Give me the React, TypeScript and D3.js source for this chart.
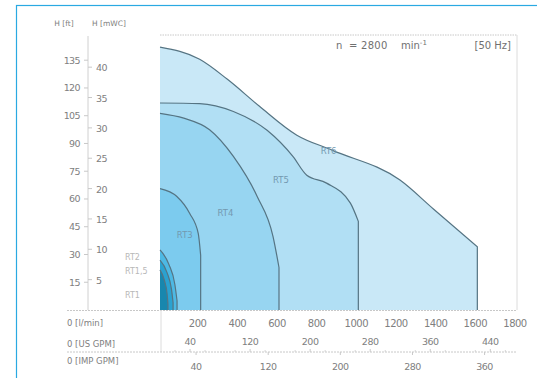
import * as d3 from "d3";

// flow in l/min, head in m
const rt6Q = [0, 200, 340, 500, 690, 870, 1210, 1380, 1600];
const rt6H = [43.3, 41.3, 38.0, 33.6, 28.8, 26.3, 21.4, 16.6, 10.4];
const rt5Q = [0, 200, 370, 540, 670, 740, 840, 960, 1000];
const rt5H = [34.1, 34.0, 32.7, 29.6, 25.3, 22.2, 20.9, 17.6, 14.6];
const rt4Q = [0, 120, 250, 370, 490, 570, 600];
const rt4H = [32.4, 31.6, 29.7, 25.3, 18.7, 12.1, 7.0];
const rt3Q = [0, 85, 150, 193, 205];
const rt3H = [20.0, 18.7, 15.9, 12.6, 9.0];
const rt2Q = [0, 45, 75, 86];
const rt2H = [9.9, 7.5, 4.2, 1.5];
const rt15Q = [0, 35, 58, 66];
const rt15H = [8.2, 6.2, 3.4, 1.2];
const rt1Q = [0, 22, 36, 40];
const rt1H = [6.6, 4.9, 2.6, 1.0];

const curveNames = ["RT6", "RT5", "RT4", "RT3", "RT2", "RT1,5", "RT1"];
const curveFills = ["#c9e8f7", "#b1dff4", "#97d5f1", "#7ccbee", "#4db9e4", "#2ba2d0", "#1887ae"];

const lpmTicks = [200, 400, 600, 800, 1000, 1200, 1400, 1600, 1800];
const usTicks = [40, 120, 200, 280, 360, 440];
const impTicks = [40, 120, 200, 280, 360];
const ftTicks = [15, 30, 45, 60, 75, 90, 105, 120, 135];
const mTicks = [5, 10, 15, 20, 25, 30, 35, 40];

const US_GAL = 3.785;
const IMP_GAL = 4.546;
const FT = 3.2808;

const W = 537;
const H = 378;
const FONT = "DejaVu Sans, sans-serif";
const TXT = "#808080";

export default function App() {
  const x = d3.scaleLinear().domain([0, 1800]).range([160, 517]);
  const y = d3.scaleLinear().domain([0, 45.3]).range([310, 35]);
  const line = d3
    .line<[number, number]>()
    .x((d) => x(d[0]))
    .y((d) => y(d[1]))
    .curve(d3.curveMonotoneX);

  const series = [
    [rt6Q, rt6H],
    [rt5Q, rt5H],
    [rt4Q, rt4H],
    [rt3Q, rt3H],
    [rt2Q, rt2H],
    [rt15Q, rt15H],
    [rt1Q, rt1H],
  ].map(([qs, hs], i) => {
    const pts = qs.map((q, j) => [q, hs[j]] as [number, number]);
    const top = line(pts) as string;
    const qMax = qs[qs.length - 1];
    return {
      name: curveNames[i],
      fill: curveFills[i],
      outline: `${top}L${x(qMax)},${y(0)}`,
      area: `${top}L${x(qMax)},${y(0)}L${x(0)},${y(0)}Z`,
    };
  });

  const labels = [
    { t: "RT6", q: 810, h: 25.7 },
    { t: "RT5", q: 570, h: 21.0 },
    { t: "RT4", q: 290, h: 15.5 },
    { t: "RT3", q: 85, h: 11.8 },
  ];

  return (
    <svg
      width={W}
      height={H}
      viewBox={`0 0 ${W} ${H}`}
      style={{ position: "absolute", left: 0, top: 0, background: "#fff" }}
      fontFamily={FONT}
    >
      <rect x={16.5} y={5.5} width={W} height={H} fill="none" stroke="#2aa9e2" strokeWidth={1.2} />

      {series.map((s) => (
        <path key={s.name + "a"} d={s.area} fill={s.fill} />
      ))}
      {series.map((s) => (
        <path key={s.name + "o"} d={s.outline} fill="none" stroke="#557483" strokeWidth={1.2} />
      ))}
      {labels.map((l) => (
        <text key={l.t} x={x(l.q)} y={y(l.h)} fontSize={8.5} fill="#7399b0">
          {l.t}
        </text>
      ))}

      {/* frame lines */}
      <line x1={160} y1={35} x2={517} y2={35} stroke="#c8c8c8" strokeDasharray="1.5,1" />
      <line x1={517} y1={35} x2={517} y2={310} stroke="#dcdcdc" />
      <line x1={67} y1={310.5} x2={517} y2={310.5} stroke="#c8c8c8" strokeDasharray="2,1" />
      <line x1={88} y1={36} x2={88} y2={310} stroke="#d0d0d0" />
      <line x1={161} y1={310} x2={161} y2={352} stroke="#dcdcdc" />
      <line x1={67} y1={352} x2={517} y2={352} stroke="#c8c8c8" strokeDasharray="2,1" />

      {/* head axes */}
      <text x={64} y={26} fontSize={7.5} fill={TXT} textAnchor="middle">H [ft]</text>
      <text x={92} y={26} fontSize={7.5} fill={TXT}>H [mWC]</text>
      {ftTicks.map((t) => (
        <g key={"ft" + t}>
          <line x1={84} x2={88} y1={y(t / FT)} y2={y(t / FT)} stroke="#c8c8c8" />
          <text x={80} y={y(t / FT) + 3.5} fontSize={9.5} fill={TXT} textAnchor="end" letterSpacing={-0.6}>
            {t}
          </text>
        </g>
      ))}
      {mTicks.map((t) => (
        <g key={"m" + t}>
          <line x1={88} x2={92} y1={y(t)} y2={y(t)} stroke="#c8c8c8" />
          <text x={96} y={y(t) + 4} fontSize={9.5} fill={TXT} letterSpacing={-0.6}>
            {t}
          </text>
        </g>
      ))}

      {/* small curve names */}
      <text x={125} y={260} fontSize={8} fill="#b8b8b8">RT2</text>
      <text x={125} y={274} fontSize={8} fill="#b8b8b8">RT1,5</text>
      <text x={125} y={298} fontSize={8} fill="#b8b8b8">RT1</text>

      {/* flow axes */}
      <text x={67} y={326} fontSize={8.5} fill={TXT}>0 [l/min]</text>
      <text x={67} y={347} fontSize={8.5} fill={TXT}>0 [US GPM]</text>
      <text x={67} y={364} fontSize={8.5} fill={TXT}>0 [IMP GPM]</text>
      {lpmTicks.map((t) => (
        <text key={"l" + t} x={x(t) - 2} y={327} fontSize={10} fill={TXT} textAnchor="middle" letterSpacing={-0.5}>
          {t}
        </text>
      ))}
      {usTicks.map((t) => (
        <g key={"us" + t}>
          <line x1={x(t * US_GAL)} x2={x(t * US_GAL)} y1={349} y2={352} stroke="#c8c8c8" />
          <text x={x(t * US_GAL)} y={345} fontSize={9.5} fill={TXT} textAnchor="middle" letterSpacing={-0.5}>
            {t}
          </text>
        </g>
      ))}
      {d3.range(20, 480, 40).map((t) => (
        <line key={"usm" + t} x1={x(t * US_GAL)} x2={x(t * US_GAL)} y1={350} y2={352} stroke="#d5d5d5" />
      ))}
      {impTicks.map((t) => (
        <g key={"imp" + t}>
          <line x1={x(t * IMP_GAL)} x2={x(t * IMP_GAL)} y1={352} y2={355} stroke="#c8c8c8" />
          <text x={x(t * IMP_GAL)} y={370} fontSize={9.5} fill={TXT} textAnchor="middle" letterSpacing={-0.5}>
            {t}
          </text>
        </g>
      ))}

      {/* speed note */}
      <text x={336} y={49} fontSize={10} fill="#707070">n</text>
      <text x={349} y={49} fontSize={10} fill="#707070">=</text>
      <text x={361} y={49} fontSize={10} fill="#707070" letterSpacing={0.3}>2800</text>
      <text x={401} y={49} fontSize={10} fill="#707070">
        min<tspan dy={-4} fontSize={7}>-1</tspan>
      </text>
      <text x={511} y={49} fontSize={10} fill="#707070" textAnchor="end">[50 Hz]</text>
    </svg>
  );
}
